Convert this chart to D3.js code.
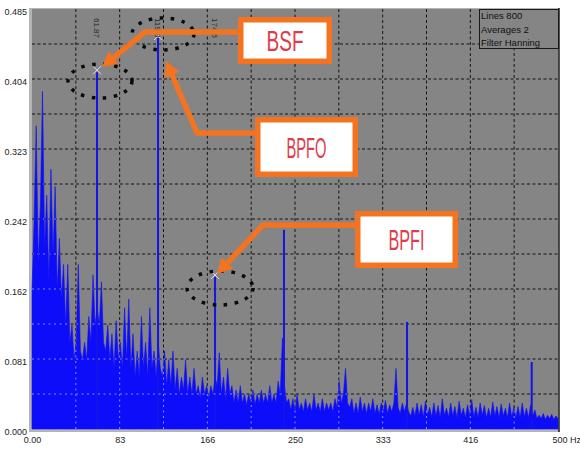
<!DOCTYPE html>
<html><head><meta charset="utf-8">
<script src="https://cdn.jsdelivr.net/npm/d3@7"></script>
<style>
body{margin:0;background:#fff}
svg{display:block}
text{font-family:"Liberation Sans",Arial,sans-serif}
</style>
</head><body>
<svg id="c" width="580" height="451"></svg>
<script>
// ---------- DATA ----------
const yTickValues = [0, 0.0808, 0.1617, 0.2425, 0.3233, 0.4042, 0.485];
const yTickLabels = ["0.000","0.081","0.162","0.242","0.323","0.404","0.485"];
const xTickValues = [0, 83.33, 166.67, 250, 333.33, 416.67, 500];
const xTickLabels = ["0.00","83","166","250","333","416","500 Hz"];
const floorStepHz = 2;
const floorValues = [
0.16,0.24,0.35,0.19,0.26,0.39,0.21,0.27,0.17,0.30,
0.20,0.28,0.16,0.22,0.15,0.19,0.12,0.19,0.10,0.12,
0.08,0.10,0.19,0.09,0.08,0.10,0.08,0.13,0.10,0.178,
0.12,0.14,0.12,0.17,0.10,0.09,0.12,0.08,0.11,0.07,
0.125,0.08,0.10,0.07,0.14,0.08,0.15,0.07,0.11,0.06,
0.09,0.06,0.13,0.07,0.10,0.06,0.14,0.07,0.09,0.06,
0.10,0.07,0.06,0.09,0.05,0.08,0.05,0.09,0.045,0.07,
0.04,0.06,0.045,0.08,0.04,0.06,0.04,0.07,0.04,0.05,
0.035,0.06,0.04,0.05,0.035,0.05,0.04,0.06,0.05,0.088,
0.04,0.06,0.035,0.07,0.04,0.05,0.03,0.045,0.03,0.05,
0.03,0.04,0.028,0.04,0.03,0.045,0.028,0.04,0.03,0.045,
0.03,0.04,0.03,0.05,0.03,0.04,0.03,0.055,0.04,0.105,
0.05,0.03,0.035,0.022,0.035,0.02,0.04,0.022,0.03,0.02,
0.035,0.022,0.03,0.02,0.04,0.022,0.03,0.02,0.035,0.02,
0.03,0.022,0.03,0.02,0.035,0.025,0.055,0.03,0.04,0.07,
0.03,0.025,0.035,0.018,0.03,0.018,0.037,0.02,0.03,0.018,
0.03,0.02,0.035,0.018,0.028,0.017,0.03,0.02,0.033,0.018,
0.028,0.02,0.03,0.07,0.025,0.018,0.03,0.02,0.03,0.02,
0.015,
0.025,0.015,0.03,0.016,0.028,0.014,0.032,0.016,0.025,0.014,
0.03,0.015,0.027,0.013,0.035,0.016,0.024,0.014,0.03,0.015,
0.026,0.013,0.032,0.016,0.024,0.013,0.028,0.015,0.034,0.014,
0.025,0.013,0.03,0.016,0.027,0.013,0.024,0.014,0.031,0.015,
0.026,0.013,0.029,0.015,0.024,0.013,0.03,0.014,0.025,0.013,
0.026,0.013,0.03,0.014,0.024,0.013,0.028,0.015,0.022,0.012,
0.016,0.012,0.018,0.011,0.016,0.012,0.017,0.011,0.015,0.012
];
const peakHz  = [61.8, 119.8, 174.0, 239.5, 356.5, 475.0];
const peakAmp = [0.412, 0.4515, 0.1755, 0.23, 0.1236, 0.0774];
const peakTags = ["61.87", "119.8", "174.5"];
const legendLines = ["Lines 800", "Averages 2", "Filter Hanning"];
const calloutLabels = ["BSF", "BPFO", "BPFI"];

// ---------- DRAWING ----------
const svg = d3.select("#c");
const L = 32, R = 558, T = 9, B = 429;
const x = d3.scaleLinear().domain([0, 500]).range([L, R]);
const y = d3.scaleLinear().domain([0, 0.485]).range([B, T]);
const BLUE = "#0d0dfa";
const ORANGE = "#f47321";
const RED = "#de3c4b";

// frame + plot background
svg.append("rect").attr("x", L-3).attr("y", T-1).attr("width", R-L+4).attr("height", B-T+4).attr("fill", "#b4b4b4");
svg.append("rect").attr("x", L).attr("y", T).attr("width", R-L).attr("height", B-T).attr("fill", "#858585");
svg.append("line").attr("x1", R+1).attr("x2", R+1).attr("y1", T-1).attr("y2", B+3).attr("stroke", "#1a1a1a").attr("stroke-width", 1.5);

const floorData = floorValues.map((v, i) => ({hz: i*floorStepHz, v}));

function gridLines(g, color, width, dash) {
  for (let k = 1; k < 12; k++) {
    g.append("line").attr("x1", x(500*k/12)).attr("x2", x(500*k/12)).attr("y1", T).attr("y2", B)
      .attr("stroke", color).attr("stroke-width", width).attr("stroke-dasharray", dash);
    g.append("line").attr("y1", y(0.485*k/12)).attr("y2", y(0.485*k/12)).attr("x1", L).attr("x2", R)
      .attr("stroke", color).attr("stroke-width", width).attr("stroke-dasharray", dash);
  }
}
// grid under spectrum
gridLines(svg.append("g"), "#151515", 1, "3,2.5");

// spectrum floor
const area = d3.area().x(d => x(d.hz)).y0(y(0)).y1(d => y(d.v));
const areaD = area(floorData);
svg.append("path").attr("d", areaD).attr("fill", BLUE).attr("stroke", BLUE).attr("stroke-width", 0.6);

// peaks
svg.append("g").selectAll("line").data(peakHz).join("line")
  .attr("x1", d => x(d)).attr("x2", d => x(d))
  .attr("y1", y(0)).attr("y2", (d, i) => y(peakAmp[i]))
  .attr("stroke", "#1414e6").attr("stroke-width", 2);

// grid over the blue (lighter dots), clipped to the spectrum area
svg.append("clipPath").attr("id", "specClip").append("path").attr("d", areaD);
const gOver = svg.append("g").attr("clip-path", "url(#specClip)");
gridLines(gOver, "#8c8cff", 1, "2,3.5");

// peak cursors
[0, 1, 2].forEach(i => {
  const cx = x(peakHz[i]), cy = y(peakAmp[i]) - 2;
  const g = svg.append("g").attr("stroke", "#d8d8f4").attr("stroke-width", 1);
  g.append("line").attr("x1", cx-4).attr("y1", cy-4).attr("x2", cx+4).attr("y2", cy+4);
  g.append("line").attr("x1", cx+4).attr("y1", cy-4).attr("x2", cx-4).attr("y2", cy+4);
  svg.append("text").attr("transform", `translate(${cx-3},18) rotate(90)`)
    .attr("font-size", 8).attr("fill", "#2a2a2a").text(peakTags[i]);
});

// legend box
const lg = svg.append("g");
lg.append("rect").attr("x", 479.5).attr("y", 9.5).attr("width", R-479).attr("height", 39)
  .attr("fill", "#858585").attr("stroke", "#1a1a1a").attr("stroke-width", 1);
legendLines.forEach((t, i) => {
  lg.append("text").attr("x", 481).attr("y", 19 + i*13.5).attr("font-size", 9.5).attr("fill", "#111").text(t);
});

// axes
const yAxis = d3.axisLeft(y).tickValues(yTickValues).tickFormat((d, i) => yTickLabels[i]).tickSize(0).tickPadding(3);
const gy = svg.append("g").attr("transform", `translate(${L-2},0)`).call(yAxis);
gy.select(".domain").remove();
gy.selectAll("text").attr("font-size", 9).attr("fill", "#222").attr("dy", "0.66em")
  .style("font-family", '"Liberation Sans Narrow","Liberation Sans",Arial,sans-serif');

const xAxis = d3.axisBottom(x).tickValues(xTickValues).tickFormat((d, i) => xTickLabels[i]).tickSize(0).tickPadding(8);
const gx = svg.append("g").attr("transform", `translate(0,${B})`).call(xAxis);
gx.select(".domain").remove();
gx.selectAll("text").attr("font-size", 9).attr("fill", "#222")
  .style("font-family", '"Liberation Sans Narrow","Liberation Sans",Arial,sans-serif');
gx.selectAll("text").filter((d, i) => i === xTickValues.length-1).attr("text-anchor", "start").attr("dx", -6);

// dashed ellipses
const ellipses = [[100, 81, 32, 17], [163, 34, 31, 16], [220, 288, 33, 17]];
ellipses.forEach(e => {
  svg.append("ellipse").attr("cx", e[0]).attr("cy", e[1]).attr("rx", e[2]).attr("ry", e[3])
    .attr("fill", "none").attr("stroke", "#0a0a0a").attr("stroke-width", 3.5).attr("stroke-dasharray", "3.5,7.5");
});

// arrows
const arrows = [
  [[240, 32], [145, 32], [102, 67]],
  [[257, 133], [197, 133], [166, 61]],
  [[357, 225], [263, 225], [217, 274]]
];
arrows.forEach(pts => {
  const n = pts.length, tip = pts[n-1], prev = pts[n-2];
  const dx = tip[0]-prev[0], dy = tip[1]-prev[1], len = Math.hypot(dx, dy);
  const ux = dx/len, uy = dy/len, hl = 15, hw = 8;
  const base = [tip[0]-ux*hl, tip[1]-uy*hl];
  const line = pts.slice(0, n-1).concat([[tip[0]-ux*(hl-2), tip[1]-uy*(hl-2)]]);
  svg.append("path").attr("d", d3.line()(line)).attr("fill", "none")
    .attr("stroke", ORANGE).attr("stroke-width", 5.5).attr("stroke-linejoin", "round");
  svg.append("path").attr("d", d3.line()([tip, [base[0]-uy*hw, base[1]+ux*hw], [base[0]+uy*hw, base[1]-ux*hw]]) + "Z")
    .attr("fill", ORANGE);
});

// callout boxes
const boxes = [[238, 17, 94, 47, 37], [255, 117, 103, 60, 40], [355, 211, 103, 57, 36]];
boxes.forEach((b, i) => {
  svg.append("rect").attr("x", b[0]+2.75).attr("y", b[1]+2.75).attr("width", b[2]-5.5).attr("height", b[3]-5.5)
    .attr("fill", "#fff").attr("stroke", ORANGE).attr("stroke-width", 5.5);
  svg.append("text").attr("x", b[0]+b[2]/2).attr("y", b[1]+b[3]/2+10.5).attr("text-anchor", "middle")
    .attr("font-size", 29).attr("fill", RED)
    .attr("textLength", b[4]).attr("lengthAdjust", "spacingAndGlyphs")
    .text(calloutLabels[i]);
});
</script>
</body></html>
